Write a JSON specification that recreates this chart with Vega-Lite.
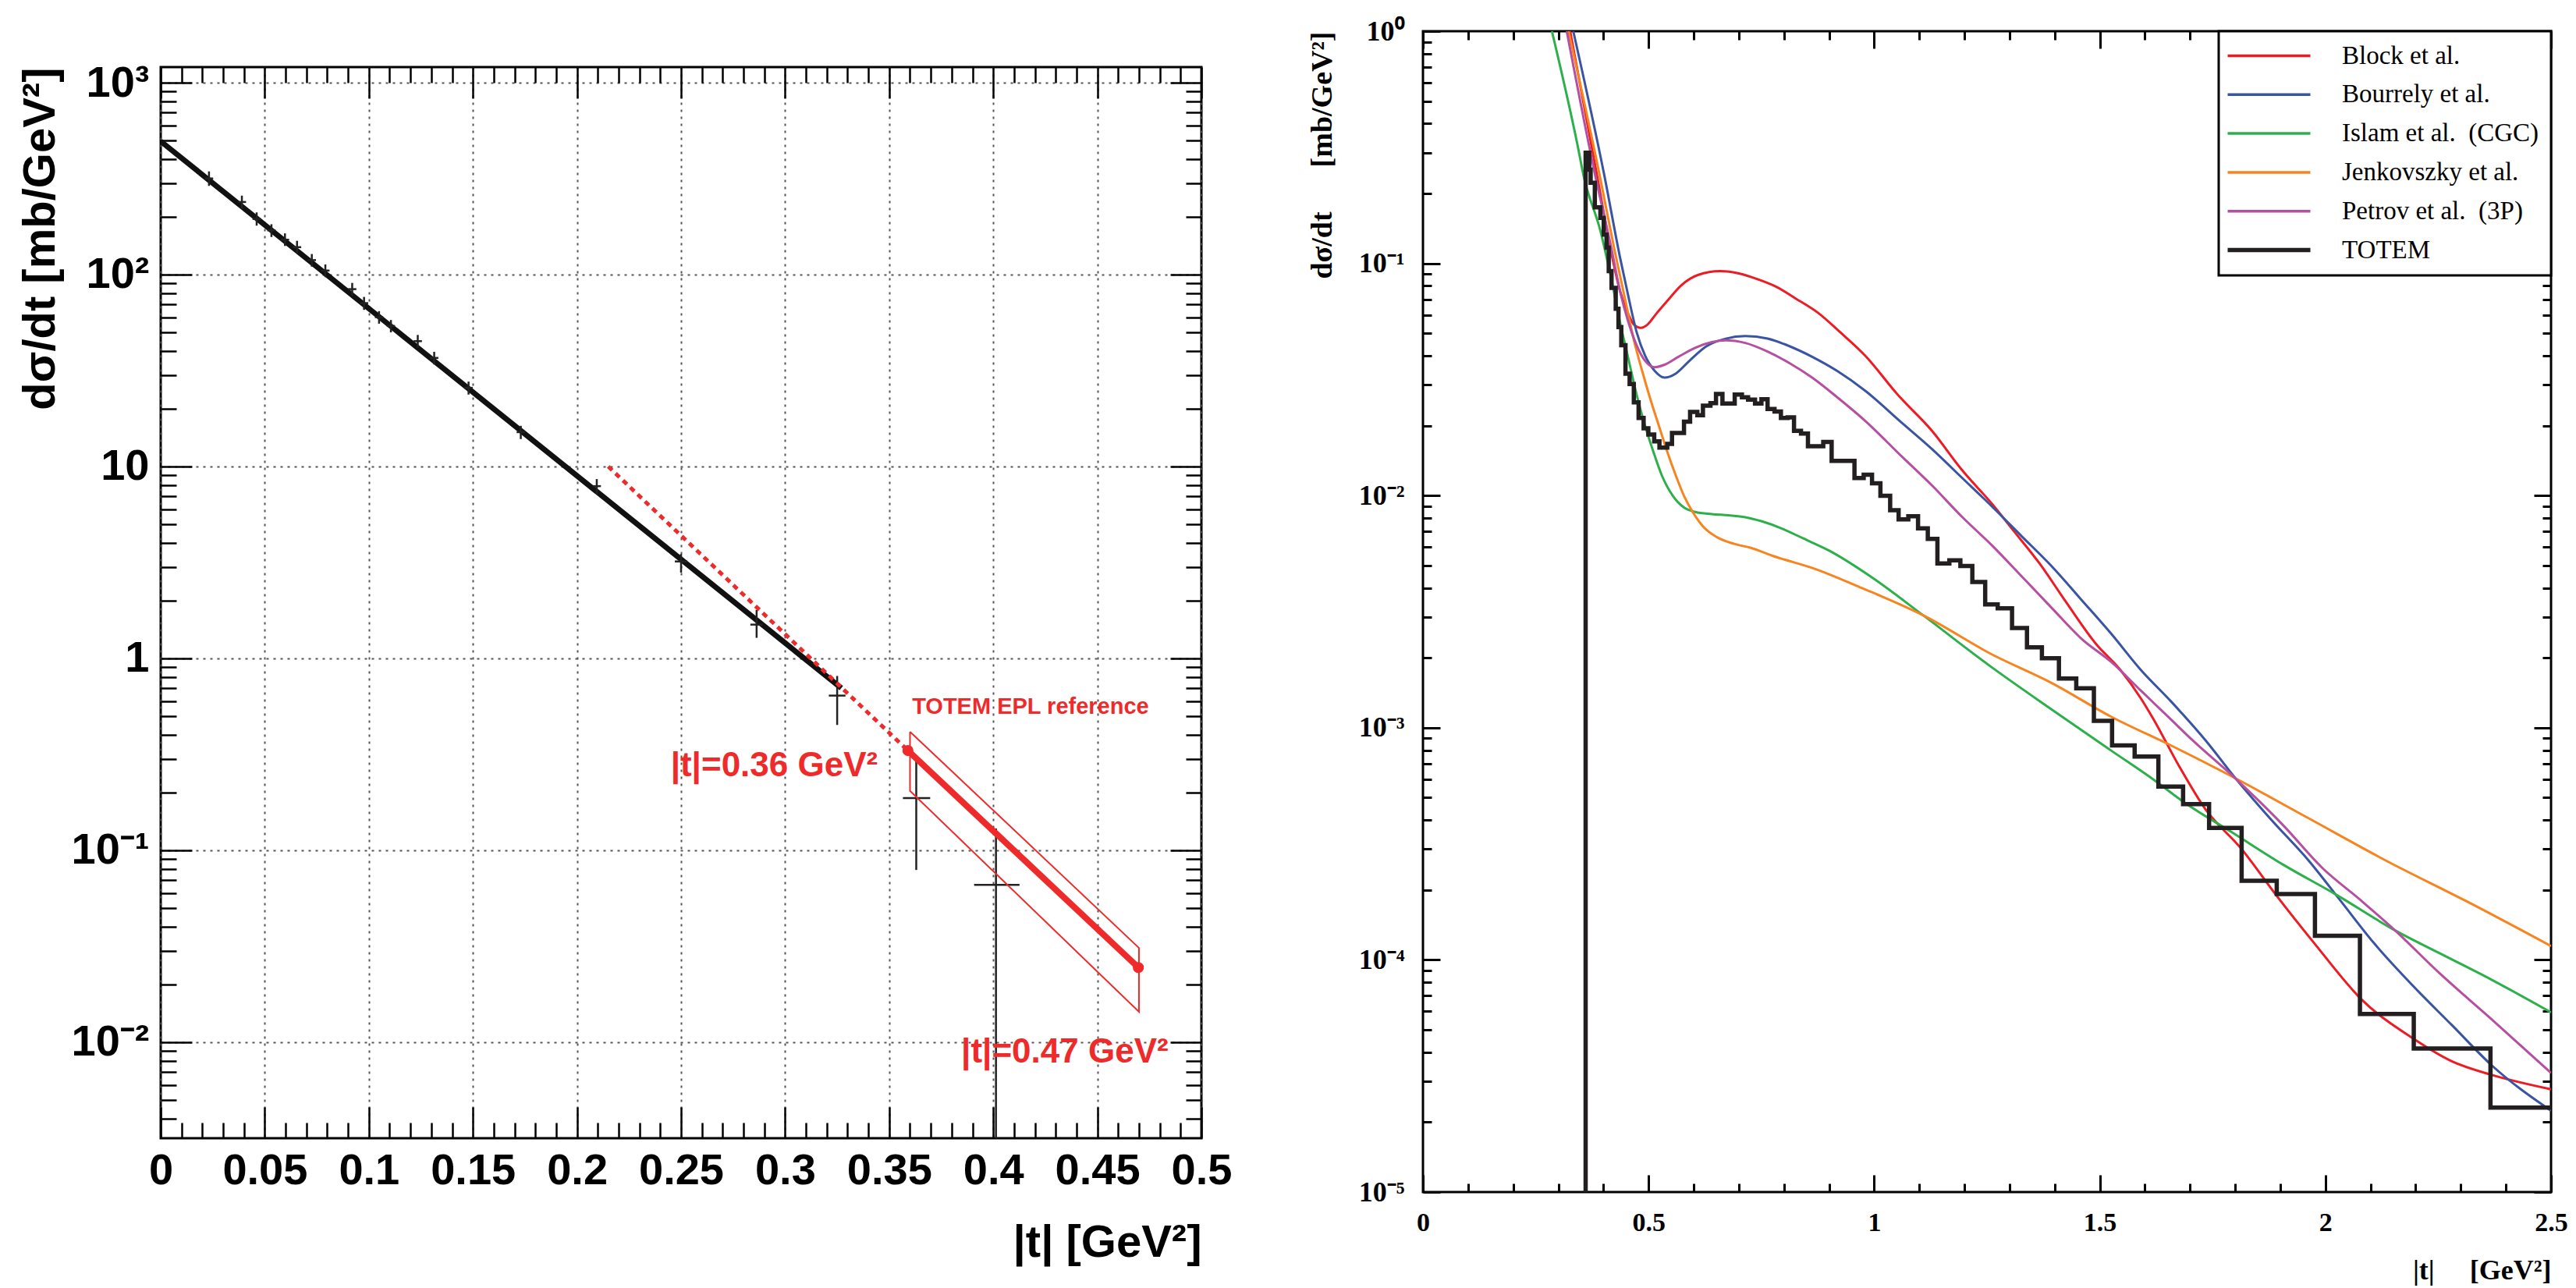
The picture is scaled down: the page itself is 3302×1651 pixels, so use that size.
{
  "$schema": "https://vega.github.io/schema/vega-lite/v6.json",
  "padding": {"left": 21, "top": 20, "right": 0, "bottom": 0},
  "background": "white",
  "config": {
    "view": {"stroke": "black", "strokeWidth": 3},
    "legend": {"strokeWidth": 3}
  },
  "resolve": {"scale": {"color": "independent"}, "legend": {"color": "independent"}},
  "datasets": {
    "fit": [{"t": 0, "v": 495}, {"t": 0.327, "v": 0.70}],
    "pts": [
      {"t": 0.0232, "v": 317, "lo": 290, "hi": 345, "tlo": 0.0212, "thi": 0.0252},
      {"t": 0.0390, "v": 239, "lo": 220, "hi": 258, "tlo": 0.0370, "thi": 0.0410},
      {"t": 0.0461, "v": 195, "lo": 180, "hi": 211, "tlo": 0.0441, "thi": 0.0481},
      {"t": 0.0532, "v": 170, "lo": 157, "hi": 183, "tlo": 0.0512, "thi": 0.0552},
      {"t": 0.0597, "v": 152, "lo": 141, "hi": 164, "tlo": 0.0577, "thi": 0.0617},
      {"t": 0.0655, "v": 139, "lo": 129, "hi": 150, "tlo": 0.0635, "thi": 0.0675},
      {"t": 0.0726, "v": 119, "lo": 110, "hi": 128, "tlo": 0.0706, "thi": 0.0746},
      {"t": 0.0791, "v": 105, "lo": 97, "hi": 113, "tlo": 0.0771, "thi": 0.0811},
      {"t": 0.0920, "v": 84, "lo": 77.5, "hi": 90.5, "tlo": 0.0900, "thi": 0.0940},
      {"t": 0.0977, "v": 71, "lo": 65.5, "hi": 76.5, "tlo": 0.0957, "thi": 0.0997},
      {"t": 0.1049, "v": 60, "lo": 55.5, "hi": 64.5, "tlo": 0.1029, "thi": 0.1069},
      {"t": 0.1106, "v": 54, "lo": 50, "hi": 58, "tlo": 0.1086, "thi": 0.1126},
      {"t": 0.1235, "v": 45, "lo": 41.5, "hi": 48.5, "tlo": 0.1215, "thi": 0.1255},
      {"t": 0.1314, "v": 36.8, "lo": 34, "hi": 39.6, "tlo": 0.1294, "thi": 0.1334},
      {"t": 0.1479, "v": 25.7, "lo": 23.7, "hi": 27.7, "tlo": 0.1459, "thi": 0.1499},
      {"t": 0.1730, "v": 15.1, "lo": 13.9, "hi": 16.3, "tlo": 0.1710, "thi": 0.1750},
      {"t": 0.2095, "v": 7.9, "lo": 7.2, "hi": 8.6, "tlo": 0.2075, "thi": 0.2115},
      {"t": 0.2500, "v": 3.2, "lo": 2.8, "hi": 3.5, "tlo": 0.2470, "thi": 0.2530},
      {"t": 0.2863, "v": 1.5, "lo": 1.28, "hi": 1.79, "tlo": 0.2833, "thi": 0.2893},
      {"t": 0.3250, "v": 0.64, "lo": 0.45, "hi": 0.81, "tlo": 0.3210, "thi": 0.3290},
      {"t": 0.3630, "v": 0.187, "lo": 0.079, "hi": 0.31, "tlo": 0.3566, "thi": 0.3697},
      {"t": 0.4013, "v": 0.066, "lo": 0.003, "hi": 0.13, "tlo": 0.3908, "thi": 0.4126}
    ],
    "dash": [{"t": 0.215, "v": 10}, {"t": 0.359, "v": 0.331}],
    "redline": [{"t": 0.359, "v": 0.331}, {"t": 0.4697, "v": 0.0245}],
    "band": [
      {"o": 1, "t": 0.36, "v": 0.415},
      {"o": 2, "t": 0.47, "v": 0.031},
      {"o": 3, "t": 0.47, "v": 0.0144},
      {"o": 4, "t": 0.36, "v": 0.204},
      {"o": 5, "t": 0.36, "v": 0.415}
    ],
    "dots": [{"t": 0.359, "v": 0.331}, {"t": 0.4697, "v": 0.0245}],
    "labSmall": [{"t": 0.361, "v": 0.56, "text": "TOTEM EPL reference"}],
    "labBig": [
      {"t": 0.245, "v": 0.275, "text": "|t|=0.36 GeV²"},
      {"t": 0.3846, "v": 0.00885, "text": "|t|=0.47 GeV²"}
    ],
    "curves": [
      {"model": "Block et al.", "t": 0.3262, "v": 1.0},
      {"model": "Block et al.", "t": 0.3861, "v": 0.237},
      {"model": "Block et al.", "t": 0.4179, "v": 0.110},
      {"model": "Block et al.", "t": 0.4364, "v": 0.0764},
      {"model": "Block et al.", "t": 0.4549, "v": 0.0606},
      {"model": "Block et al.", "t": 0.4673, "v": 0.0546},
      {"model": "Block et al.", "t": 0.4828, "v": 0.0528},
      {"model": "Block et al.", "t": 0.4981, "v": 0.0546},
      {"model": "Block et al.", "t": 0.5168, "v": 0.0606},
      {"model": "Block et al.", "t": 0.5414, "v": 0.0689},
      {"model": "Block et al.", "t": 0.5723, "v": 0.0804},
      {"model": "Block et al.", "t": 0.6093, "v": 0.0891},
      {"model": "Block et al.", "t": 0.6587, "v": 0.0926},
      {"model": "Block et al.", "t": 0.7019, "v": 0.0903},
      {"model": "Block et al.", "t": 0.7390, "v": 0.0858},
      {"model": "Block et al.", "t": 0.7822, "v": 0.0794},
      {"model": "Block et al.", "t": 0.8254, "v": 0.0707},
      {"model": "Block et al.", "t": 0.8748, "v": 0.0614},
      {"model": "Block et al.", "t": 0.9243, "v": 0.0506},
      {"model": "Block et al.", "t": 0.9798, "v": 0.0401},
      {"model": "Block et al.", "t": 1.0521, "v": 0.0272},
      {"model": "Block et al.", "t": 1.1281, "v": 0.0190},
      {"model": "Block et al.", "t": 1.1943, "v": 0.0129},
      {"model": "Block et al.", "t": 1.2606, "v": 0.00923},
      {"model": "Block et al.", "t": 1.3069, "v": 0.00713},
      {"model": "Block et al.", "t": 1.3664, "v": 0.00510},
      {"model": "Block et al.", "t": 1.4260, "v": 0.00346},
      {"model": "Block et al.", "t": 1.4921, "v": 0.00229},
      {"model": "Block et al.", "t": 1.5450, "v": 0.00178},
      {"model": "Block et al.", "t": 1.5913, "v": 0.001335},
      {"model": "Block et al.", "t": 1.6183, "v": 0.001094},
      {"model": "Block et al.", "t": 1.6759, "v": 0.000682},
      {"model": "Block et al.", "t": 1.7336, "v": 0.000447},
      {"model": "Block et al.", "t": 1.8143, "v": 0.000300},
      {"model": "Block et al.", "t": 1.8891, "v": 0.000192},
      {"model": "Block et al.", "t": 1.9757, "v": 0.0001177},
      {"model": "Block et al.", "t": 2.0795, "v": 0.0000677},
      {"model": "Block et al.", "t": 2.1946, "v": 0.0000458},
      {"model": "Block et al.", "t": 2.2810, "v": 0.0000365},
      {"model": "Block et al.", "t": 2.3674, "v": 0.0000320},
      {"model": "Block et al.", "t": 2.5, "v": 0.0000277},

      {"model": "Bourrely et al.", "t": 0.3331, "v": 1.0},
      {"model": "Bourrely et al.", "t": 0.4023, "v": 0.2373},
      {"model": "Bourrely et al.", "t": 0.4364, "v": 0.1068},
      {"model": "Bourrely et al.", "t": 0.4549, "v": 0.0725},
      {"model": "Bourrely et al.", "t": 0.4735, "v": 0.0506},
      {"model": "Bourrely et al.", "t": 0.4921, "v": 0.0401},
      {"model": "Bourrely et al.", "t": 0.5137, "v": 0.0344},
      {"model": "Bourrely et al.", "t": 0.5353, "v": 0.0322},
      {"model": "Bourrely et al.", "t": 0.5600, "v": 0.0335},
      {"model": "Bourrely et al.", "t": 0.5908, "v": 0.0381},
      {"model": "Bourrely et al.", "t": 0.6278, "v": 0.0439},
      {"model": "Bourrely et al.", "t": 0.6710, "v": 0.0474},
      {"model": "Bourrely et al.", "t": 0.7143, "v": 0.0486},
      {"model": "Bourrely et al.", "t": 0.7637, "v": 0.0474},
      {"model": "Bourrely et al.", "t": 0.8131, "v": 0.0439},
      {"model": "Bourrely et al.", "t": 0.8625, "v": 0.0396},
      {"model": "Bourrely et al.", "t": 0.9181, "v": 0.0344},
      {"model": "Bourrely et al.", "t": 0.9798, "v": 0.0283},
      {"model": "Bourrely et al.", "t": 1.0621, "v": 0.0205},
      {"model": "Bourrely et al.", "t": 1.1281, "v": 0.01585},
      {"model": "Bourrely et al.", "t": 1.1943, "v": 0.01194},
      {"model": "Bourrely et al.", "t": 1.2606, "v": 0.00899},
      {"model": "Bourrely et al.", "t": 1.3268, "v": 0.00668},
      {"model": "Bourrely et al.", "t": 1.3928, "v": 0.00497},
      {"model": "Bourrely et al.", "t": 1.4590, "v": 0.00356},
      {"model": "Bourrely et al.", "t": 1.5252, "v": 0.00254},
      {"model": "Bourrely et al.", "t": 1.5913, "v": 0.00177},
      {"model": "Bourrely et al.", "t": 1.6575, "v": 0.00130},
      {"model": "Bourrely et al.", "t": 1.7336, "v": 0.000886},
      {"model": "Bourrely et al.", "t": 1.8027, "v": 0.000599},
      {"model": "Bourrely et al.", "t": 1.8776, "v": 0.000406},
      {"model": "Bourrely et al.", "t": 1.9641, "v": 0.000266},
      {"model": "Bourrely et al.", "t": 2.0332, "v": 0.000180},
      {"model": "Bourrely et al.", "t": 2.1082, "v": 0.0001177},
      {"model": "Bourrely et al.", "t": 2.1946, "v": 0.0000771},
      {"model": "Bourrely et al.", "t": 2.2810, "v": 0.0000522},
      {"model": "Bourrely et al.", "t": 2.3674, "v": 0.0000353},
      {"model": "Bourrely et al.", "t": 2.5, "v": 0.0000224},

      {"model": "Islam et al.\u00a0\u00a0(CGC)", "t": 0.2858, "v": 1.0},
      {"model": "Islam et al.\u00a0\u00a0(CGC)", "t": 0.3425, "v": 0.3234},
      {"model": "Islam et al.\u00a0\u00a0(CGC)", "t": 0.3562, "v": 0.2373},
      {"model": "Islam et al.\u00a0\u00a0(CGC)", "t": 0.3932, "v": 0.1381},
      {"model": "Islam et al.\u00a0\u00a0(CGC)", "t": 0.4179, "v": 0.0847},
      {"model": "Islam et al.\u00a0\u00a0(CGC)", "t": 0.4364, "v": 0.0561},
      {"model": "Islam et al.\u00a0\u00a0(CGC)", "t": 0.4549, "v": 0.0391},
      {"model": "Islam et al.\u00a0\u00a0(CGC)", "t": 0.4735, "v": 0.0272},
      {"model": "Islam et al.\u00a0\u00a0(CGC)", "t": 0.4921, "v": 0.0200},
      {"model": "Islam et al.\u00a0\u00a0(CGC)", "t": 0.5106, "v": 0.01545},
      {"model": "Islam et al.\u00a0\u00a0(CGC)", "t": 0.5291, "v": 0.01225},
      {"model": "Islam et al.\u00a0\u00a0(CGC)", "t": 0.5538, "v": 0.00997},
      {"model": "Islam et al.\u00a0\u00a0(CGC)", "t": 0.5785, "v": 0.00888},
      {"model": "Islam et al.\u00a0\u00a0(CGC)", "t": 0.6032, "v": 0.00850},
      {"model": "Islam et al.\u00a0\u00a0(CGC)", "t": 0.6402, "v": 0.00832},
      {"model": "Islam et al.\u00a0\u00a0(CGC)", "t": 0.6772, "v": 0.00822},
      {"model": "Islam et al.\u00a0\u00a0(CGC)", "t": 0.7143, "v": 0.00807},
      {"model": "Islam et al.\u00a0\u00a0(CGC)", "t": 0.7514, "v": 0.00774},
      {"model": "Islam et al.\u00a0\u00a0(CGC)", "t": 0.7946, "v": 0.00722},
      {"model": "Islam et al.\u00a0\u00a0(CGC)", "t": 0.8439, "v": 0.00652},
      {"model": "Islam et al.\u00a0\u00a0(CGC)", "t": 0.8996, "v": 0.00580},
      {"model": "Islam et al.\u00a0\u00a0(CGC)", "t": 0.9959, "v": 0.00443},
      {"model": "Islam et al.\u00a0\u00a0(CGC)", "t": 1.1084, "v": 0.00305},
      {"model": "Islam et al.\u00a0\u00a0(CGC)", "t": 1.2606, "v": 0.00182},
      {"model": "Islam et al.\u00a0\u00a0(CGC)", "t": 1.3928, "v": 0.00120},
      {"model": "Islam et al.\u00a0\u00a0(CGC)", "t": 1.5252, "v": 0.000797},
      {"model": "Islam et al.\u00a0\u00a0(CGC)", "t": 1.6183, "v": 0.000599},
      {"model": "Islam et al.\u00a0\u00a0(CGC)", "t": 1.6870, "v": 0.000477},
      {"model": "Islam et al.\u00a0\u00a0(CGC)", "t": 1.7912, "v": 0.000356},
      {"model": "Islam et al.\u00a0\u00a0(CGC)", "t": 1.9064, "v": 0.000257},
      {"model": "Islam et al.\u00a0\u00a0(CGC)", "t": 2.0217, "v": 0.000192},
      {"model": "Islam et al.\u00a0\u00a0(CGC)", "t": 2.1543, "v": 0.000134},
      {"model": "Islam et al.\u00a0\u00a0(CGC)", "t": 2.2523, "v": 0.000107},
      {"model": "Islam et al.\u00a0\u00a0(CGC)", "t": 2.3674, "v": 0.0000823},
      {"model": "Islam et al.\u00a0\u00a0(CGC)", "t": 2.5, "v": 0.0000594},

      {"model": "Jenkovszky et al.", "t": 0.3227, "v": 1.0},
      {"model": "Jenkovszky et al.", "t": 0.3920, "v": 0.2373},
      {"model": "Jenkovszky et al.", "t": 0.4241, "v": 0.1153},
      {"model": "Jenkovszky et al.", "t": 0.4488, "v": 0.0689},
      {"model": "Jenkovszky et al.", "t": 0.4673, "v": 0.0468},
      {"model": "Jenkovszky et al.", "t": 0.4858, "v": 0.0344},
      {"model": "Jenkovszky et al.", "t": 0.5043, "v": 0.0259},
      {"model": "Jenkovszky et al.", "t": 0.5228, "v": 0.0200},
      {"model": "Jenkovszky et al.", "t": 0.5414, "v": 0.01545},
      {"model": "Jenkovszky et al.", "t": 0.5600, "v": 0.01225},
      {"model": "Jenkovszky et al.", "t": 0.5785, "v": 0.00997},
      {"model": "Jenkovszky et al.", "t": 0.5970, "v": 0.00854},
      {"model": "Jenkovszky et al.", "t": 0.6217, "v": 0.00732},
      {"model": "Jenkovszky et al.", "t": 0.6525, "v": 0.00660},
      {"model": "Jenkovszky et al.", "t": 0.6897, "v": 0.00619},
      {"model": "Jenkovszky et al.", "t": 0.7267, "v": 0.00595},
      {"model": "Jenkovszky et al.", "t": 0.7737, "v": 0.00551},
      {"model": "Jenkovszky et al.", "t": 0.8729, "v": 0.00480},
      {"model": "Jenkovszky et al.", "t": 0.9722, "v": 0.00400},
      {"model": "Jenkovszky et al.", "t": 1.1084, "v": 0.00305},
      {"model": "Jenkovszky et al.", "t": 1.2606, "v": 0.00207},
      {"model": "Jenkovszky et al.", "t": 1.3928, "v": 0.00156},
      {"model": "Jenkovszky et al.", "t": 1.5252, "v": 0.001115},
      {"model": "Jenkovszky et al.", "t": 1.6575, "v": 0.000839},
      {"model": "Jenkovszky et al.", "t": 1.7912, "v": 0.000619},
      {"model": "Jenkovszky et al.", "t": 1.9640, "v": 0.000406},
      {"model": "Jenkovszky et al.", "t": 2.1369, "v": 0.000266},
      {"model": "Jenkovszky et al.", "t": 2.3099, "v": 0.000180},
      {"model": "Jenkovszky et al.", "t": 2.5, "v": 0.0001147},

      {"model": "Petrov et al.\u00a0\u00a0(3P)", "t": 0.3187, "v": 1.0},
      {"model": "Petrov et al.\u00a0\u00a0(3P)", "t": 0.3821, "v": 0.2373},
      {"model": "Petrov et al.\u00a0\u00a0(3P)", "t": 0.4179, "v": 0.1153},
      {"model": "Petrov et al.\u00a0\u00a0(3P)", "t": 0.4364, "v": 0.0764},
      {"model": "Petrov et al.\u00a0\u00a0(3P)", "t": 0.4549, "v": 0.0561},
      {"model": "Petrov et al.\u00a0\u00a0(3P)", "t": 0.4735, "v": 0.0444},
      {"model": "Petrov et al.\u00a0\u00a0(3P)", "t": 0.4921, "v": 0.0381},
      {"model": "Petrov et al.\u00a0\u00a0(3P)", "t": 0.5137, "v": 0.0357},
      {"model": "Petrov et al.\u00a0\u00a0(3P)", "t": 0.5353, "v": 0.0366},
      {"model": "Petrov et al.\u00a0\u00a0(3P)", "t": 0.5661, "v": 0.0396},
      {"model": "Petrov et al.\u00a0\u00a0(3P)", "t": 0.6032, "v": 0.0433},
      {"model": "Petrov et al.\u00a0\u00a0(3P)", "t": 0.6402, "v": 0.0458},
      {"model": "Petrov et al.\u00a0\u00a0(3P)", "t": 0.6710, "v": 0.0466},
      {"model": "Petrov et al.\u00a0\u00a0(3P)", "t": 0.7143, "v": 0.0454},
      {"model": "Petrov et al.\u00a0\u00a0(3P)", "t": 0.7637, "v": 0.0417},
      {"model": "Petrov et al.\u00a0\u00a0(3P)", "t": 0.8131, "v": 0.0371},
      {"model": "Petrov et al.\u00a0\u00a0(3P)", "t": 0.8625, "v": 0.0322},
      {"model": "Petrov et al.\u00a0\u00a0(3P)", "t": 0.9181, "v": 0.0265},
      {"model": "Petrov et al.\u00a0\u00a0(3P)", "t": 0.9798, "v": 0.0210},
      {"model": "Petrov et al.\u00a0\u00a0(3P)", "t": 1.0621, "v": 0.01467},
      {"model": "Petrov et al.\u00a0\u00a0(3P)", "t": 1.1281, "v": 0.01105},
      {"model": "Petrov et al.\u00a0\u00a0(3P)", "t": 1.1943, "v": 0.00811},
      {"model": "Petrov et al.\u00a0\u00a0(3P)", "t": 1.2606, "v": 0.00611},
      {"model": "Petrov et al.\u00a0\u00a0(3P)", "t": 1.3268, "v": 0.00449},
      {"model": "Petrov et al.\u00a0\u00a0(3P)", "t": 1.3928, "v": 0.00329},
      {"model": "Petrov et al.\u00a0\u00a0(3P)", "t": 1.4590, "v": 0.00242},
      {"model": "Petrov et al.\u00a0\u00a0(3P)", "t": 1.5252, "v": 0.00192},
      {"model": "Petrov et al.\u00a0\u00a0(3P)", "t": 1.5913, "v": 0.001443},
      {"model": "Petrov et al.\u00a0\u00a0(3P)", "t": 1.6575, "v": 0.001086},
      {"model": "Petrov et al.\u00a0\u00a0(3P)", "t": 1.7047, "v": 0.000886},
      {"model": "Petrov et al.\u00a0\u00a0(3P)", "t": 1.8027, "v": 0.000599},
      {"model": "Petrov et al.\u00a0\u00a0(3P)", "t": 1.9064, "v": 0.000380},
      {"model": "Petrov et al.\u00a0\u00a0(3P)", "t": 1.9930, "v": 0.000249},
      {"model": "Petrov et al.\u00a0\u00a0(3P)", "t": 2.0793, "v": 0.000180},
      {"model": "Petrov et al.\u00a0\u00a0(3P)", "t": 2.1543, "v": 0.000134},
      {"model": "Petrov et al.\u00a0\u00a0(3P)", "t": 2.2523, "v": 0.0000878},
      {"model": "Petrov et al.\u00a0\u00a0(3P)", "t": 2.3674, "v": 0.0000557},
      {"model": "Petrov et al.\u00a0\u00a0(3P)", "t": 2.5, "v": 0.0000326}
    ],
    "hist": [
      {"model": "TOTEM", "i": 0, "t": 0.3605, "v": 0.00001},
      {"model": "TOTEM", "i": 1, "t": 0.3605, "v": 0.2994},
      {"model": "TOTEM", "i": 2, "t": 0.3685, "v": 0.2531},
      {"model": "TOTEM", "i": 3, "t": 0.3716, "v": 0.2225},
      {"model": "TOTEM", "i": 4, "t": 0.3809, "v": 0.1742},
      {"model": "TOTEM", "i": 5, "t": 0.3932, "v": 0.1572},
      {"model": "TOTEM", "i": 6, "t": 0.4006, "v": 0.1329},
      {"model": "TOTEM", "i": 7, "t": 0.4068, "v": 0.1168},
      {"model": "TOTEM", "i": 8, "t": 0.4117, "v": 0.0927},
      {"model": "TOTEM", "i": 9, "t": 0.4179, "v": 0.0784},
      {"model": "TOTEM", "i": 10, "t": 0.4272, "v": 0.0638},
      {"model": "TOTEM", "i": 11, "t": 0.4333, "v": 0.0532},
      {"model": "TOTEM", "i": 12, "t": 0.4395, "v": 0.0444},
      {"model": "TOTEM", "i": 13, "t": 0.4488, "v": 0.0335},
      {"model": "TOTEM", "i": 14, "t": 0.4580, "v": 0.0302},
      {"model": "TOTEM", "i": 15, "t": 0.4673, "v": 0.0252},
      {"model": "TOTEM", "i": 16, "t": 0.4779, "v": 0.0216},
      {"model": "TOTEM", "i": 17, "t": 0.4890, "v": 0.0195},
      {"model": "TOTEM", "i": 18, "t": 0.4995, "v": 0.0183},
      {"model": "TOTEM", "i": 19, "t": 0.5125, "v": 0.0171},
      {"model": "TOTEM", "i": 20, "t": 0.5241, "v": 0.0161},
      {"model": "TOTEM", "i": 21, "t": 0.5414, "v": 0.0167},
      {"model": "TOTEM", "i": 22, "t": 0.5519, "v": 0.0186},
      {"model": "TOTEM", "i": 23, "t": 0.5785, "v": 0.0208},
      {"model": "TOTEM", "i": 24, "t": 0.5920, "v": 0.0229},
      {"model": "TOTEM", "i": 25, "t": 0.6081, "v": 0.0222},
      {"model": "TOTEM", "i": 26, "t": 0.6205, "v": 0.0244},
      {"model": "TOTEM", "i": 27, "t": 0.6371, "v": 0.0250},
      {"model": "TOTEM", "i": 28, "t": 0.6494, "v": 0.0274},
      {"model": "TOTEM", "i": 29, "t": 0.6637, "v": 0.0249},
      {"model": "TOTEM", "i": 30, "t": 0.6909, "v": 0.0272},
      {"model": "TOTEM", "i": 31, "t": 0.7069, "v": 0.0265},
      {"model": "TOTEM", "i": 32, "t": 0.7205, "v": 0.0259},
      {"model": "TOTEM", "i": 33, "t": 0.7359, "v": 0.0249},
      {"model": "TOTEM", "i": 34, "t": 0.7501, "v": 0.0260},
      {"model": "TOTEM", "i": 35, "t": 0.7637, "v": 0.0236},
      {"model": "TOTEM", "i": 36, "t": 0.7791, "v": 0.0230},
      {"model": "TOTEM", "i": 37, "t": 0.7933, "v": 0.0216},
      {"model": "TOTEM", "i": 38, "t": 0.8081, "v": 0.0217},
      {"model": "TOTEM", "i": 39, "t": 0.8223, "v": 0.0190},
      {"model": "TOTEM", "i": 40, "t": 0.8378, "v": 0.0185},
      {"model": "TOTEM", "i": 41, "t": 0.8532, "v": 0.0163},
      {"model": "TOTEM", "i": 42, "t": 0.8871, "v": 0.0170},
      {"model": "TOTEM", "i": 43, "t": 0.9057, "v": 0.0141},
      {"model": "TOTEM", "i": 44, "t": 0.9563, "v": 0.0119},
      {"model": "TOTEM", "i": 45, "t": 0.9767, "v": 0.0123},
      {"model": "TOTEM", "i": 46, "t": 0.9952, "v": 0.0113},
      {"model": "TOTEM", "i": 47, "t": 1.0138, "v": 0.00997},
      {"model": "TOTEM", "i": 48, "t": 1.0354, "v": 0.00865},
      {"model": "TOTEM", "i": 49, "t": 1.0541, "v": 0.00790},
      {"model": "TOTEM", "i": 50, "t": 1.0756, "v": 0.00815},
      {"model": "TOTEM", "i": 51, "t": 1.0972, "v": 0.00722},
      {"model": "TOTEM", "i": 52, "t": 1.1188, "v": 0.00651},
      {"model": "TOTEM", "i": 53, "t": 1.1401, "v": 0.00510},
      {"model": "TOTEM", "i": 54, "t": 1.1666, "v": 0.00526},
      {"model": "TOTEM", "i": 55, "t": 1.1910, "v": 0.00497},
      {"model": "TOTEM", "i": 56, "t": 1.2175, "v": 0.00424},
      {"model": "TOTEM", "i": 57, "t": 1.2460, "v": 0.00340},
      {"model": "TOTEM", "i": 58, "t": 1.2737, "v": 0.00327},
      {"model": "TOTEM", "i": 59, "t": 1.3055, "v": 0.00269},
      {"model": "TOTEM", "i": 60, "t": 1.3386, "v": 0.00222},
      {"model": "TOTEM", "i": 61, "t": 1.3717, "v": 0.00199},
      {"model": "TOTEM", "i": 62, "t": 1.4094, "v": 0.00163},
      {"model": "TOTEM", "i": 63, "t": 1.4478, "v": 0.00148},
      {"model": "TOTEM", "i": 64, "t": 1.4869, "v": 0.00107},
      {"model": "TOTEM", "i": 65, "t": 1.5272, "v": 0.000839},
      {"model": "TOTEM", "i": 66, "t": 1.5772, "v": 0.000752},
      {"model": "TOTEM", "i": 67, "t": 1.6298, "v": 0.000558},
      {"model": "TOTEM", "i": 68, "t": 1.6846, "v": 0.000469},
      {"model": "TOTEM", "i": 69, "t": 1.7422, "v": 0.000370},
      {"model": "TOTEM", "i": 70, "t": 1.8143, "v": 0.000219},
      {"model": "TOTEM", "i": 71, "t": 1.8921, "v": 0.000192},
      {"model": "TOTEM", "i": 72, "t": 1.9768, "v": 0.000127},
      {"model": "TOTEM", "i": 73, "t": 2.0765, "v": 0.0000585},
      {"model": "TOTEM", "i": 74, "t": 2.1958, "v": 0.0000415},
      {"model": "TOTEM", "i": 75, "t": 2.3658, "v": 0.0000231},
      {"model": "TOTEM", "i": 76, "t": 2.5, "v": 0.0000231}
    ]
  },
  "hconcat": [
    {
      "spacing": 0,
      "vconcat": [
        {
          "width": 10,
          "height": 36,
          "view": {"stroke": null},
          "data": {"values": []},
          "mark": {"type": "point", "opacity": 0}
        },
        {
          "width": 1334,
          "height": 1373,
          "resolve": {"axis": {"x": "independent", "y": "independent"}},
          "layer": [
            {
              "data": {"name": "fit"},
              "mark": {"type": "line", "color": "#111111", "strokeWidth": 7, "clip": true},
              "encoding": {
                "x": {
                  "field": "t", "type": "quantitative",
                  "scale": {"domain": [0, 0.5], "nice": false, "zero": false},
                  "axis": {
                    "orient": "bottom",
                    "values": [0,0.01,0.02,0.03,0.04,0.05,0.06,0.07,0.08,0.09,0.1,0.11,0.12,0.13,0.14,0.15,0.16,0.17,0.18,0.19,0.2,0.21,0.22,0.23,0.24,0.25,0.26,0.27,0.28,0.29,0.3,0.31,0.32,0.33,0.34,0.35,0.36,0.37,0.38,0.39,0.4,0.41,0.42,0.43,0.44,0.45,0.46,0.47,0.48,0.49,0.5],
                    "format": "~g",
                    "labelExpr": "abs(datum.value*20-round(datum.value*20))<0.000001 ? datum.label : ''",
                    "labelFont": "Liberation Sans", "labelFontWeight": "bold", "labelFontSize": 56, "labelColor": "black",
                    "labelPadding": 54, "labelFlush": false, "labelOverlap": false, "labelBound": false,
                    "domain": false, "tickColor": "black", "tickWidth": 2.5,
                    "tickSize": {"condition": {"test": "abs(datum.value*20-round(datum.value*20))<0.000001", "value": -40}, "value": -20},
                    "grid": true, "gridColor": "#555555", "gridDash": [3, 6], "gridWidth": 2,
                    "gridOpacity": {"condition": {"test": "abs(datum.value*20-round(datum.value*20))<0.000001", "value": 1}, "value": 0},
                    "title": "|t| [GeV²]", "titleFont": "Liberation Sans", "titleFontWeight": "bold", "titleFontSize": 58,
                    "titleColor": "black", "titleAnchor": "end", "titlePadding": 16
                  }
                },
                "y": {
                  "field": "v", "type": "quantitative",
                  "scale": {"type": "log", "domain": [0.00316, 1206], "nice": false},
                  "axis": {
                    "orient": "left",
                    "values": [0.004,0.005,0.006,0.007,0.008,0.009,0.01,0.02,0.03,0.04,0.05,0.06,0.07,0.08,0.09,0.1,0.2,0.3,0.4,0.5,0.6,0.7,0.8,0.9,1,2,3,4,5,6,7,8,9,10,20,30,40,50,60,70,80,90,100,200,300,400,500,600,700,800,900,1000],
                    "labelExpr": "datum.value==1000?'10³':datum.value==100?'10²':datum.value==10?'10':datum.value==1?'1':datum.value==0.1?'10⁻¹':datum.value==0.01?'10⁻²':''",
                    "labelFont": "Liberation Sans", "labelFontWeight": "bold", "labelFontSize": 56, "labelColor": "black",
                    "labelPadding": 55, "labelOverlap": false, "labelBound": false, "labelFlush": false,
                    "minExtent": 100, "maxExtent": 100,
                    "domain": false, "tickColor": "black", "tickWidth": 2.5,
                    "tickSize": {"condition": {"test": "abs(log(datum.value)/LN10-round(log(datum.value)/LN10))<0.000001", "value": -40}, "value": -20},
                    "grid": true, "gridColor": "#555555", "gridDash": [3, 6], "gridWidth": 2,
                    "gridOpacity": {"condition": {"test": "abs(log(datum.value)/LN10-round(log(datum.value)/LN10))<0.000001", "value": 1}, "value": 0},
                    "title": "dσ/dt [mb/GeV²]", "titleFont": "Liberation Sans", "titleFontWeight": "bold", "titleFontSize": 58,
                    "titleColor": "black", "titleAnchor": "end", "titlePadding": 25
                  }
                }
              }
            },
            {
              "data": {"name": "pts"},
              "mark": {"type": "rule", "color": "#222222", "strokeWidth": 2.5, "clip": true},
              "encoding": {
                "x": {
                  "field": "t", "type": "quantitative",
                  "axis": {
                    "orient": "top", "title": null, "labels": false, "grid": false, "domain": false,
                    "values": [0,0.01,0.02,0.03,0.04,0.05,0.06,0.07,0.08,0.09,0.1,0.11,0.12,0.13,0.14,0.15,0.16,0.17,0.18,0.19,0.2,0.21,0.22,0.23,0.24,0.25,0.26,0.27,0.28,0.29,0.3,0.31,0.32,0.33,0.34,0.35,0.36,0.37,0.38,0.39,0.4,0.41,0.42,0.43,0.44,0.45,0.46,0.47,0.48,0.49,0.5],
                    "tickColor": "black", "tickWidth": 2.5,
                    "tickSize": {"condition": {"test": "abs(datum.value*20-round(datum.value*20))<0.000001", "value": -40}, "value": -20}
                  }
                },
                "y": {
                  "field": "lo", "type": "quantitative",
                  "axis": {
                    "orient": "right", "title": null, "labels": false, "grid": false, "domain": false,
                    "values": [0.004,0.005,0.006,0.007,0.008,0.009,0.01,0.02,0.03,0.04,0.05,0.06,0.07,0.08,0.09,0.1,0.2,0.3,0.4,0.5,0.6,0.7,0.8,0.9,1,2,3,4,5,6,7,8,9,10,20,30,40,50,60,70,80,90,100,200,300,400,500,600,700,800,900,1000],
                    "tickColor": "black", "tickWidth": 2.5,
                    "tickSize": {"condition": {"test": "abs(log(datum.value)/LN10-round(log(datum.value)/LN10))<0.000001", "value": -40}, "value": -20}
                  }
                },
                "y2": {"field": "hi"}
              }
            },
            {
              "data": {"name": "pts"},
              "mark": {"type": "rule", "color": "#222222", "strokeWidth": 2.5, "clip": true},
              "encoding": {
                "x": {"field": "tlo", "type": "quantitative", "axis": null},
                "x2": {"field": "thi"},
                "y": {"field": "v", "type": "quantitative", "axis": null}
              }
            },
            {
              "data": {"name": "dash"},
              "mark": {"type": "line", "color": "#EE2A2A", "strokeWidth": 5, "strokeDash": [7, 6], "clip": true},
              "encoding": {
                "x": {"field": "t", "type": "quantitative", "axis": null},
                "y": {"field": "v", "type": "quantitative", "axis": null}
              }
            },
            {
              "data": {"name": "band"},
              "mark": {"type": "line", "color": "#EE2A2A", "strokeWidth": 2, "clip": true},
              "encoding": {
                "x": {"field": "t", "type": "quantitative", "axis": null},
                "y": {"field": "v", "type": "quantitative", "axis": null},
                "order": {"field": "o"}
              }
            },
            {
              "data": {"name": "redline"},
              "mark": {"type": "line", "color": "#EE2A2A", "strokeWidth": 8, "clip": true},
              "encoding": {
                "x": {"field": "t", "type": "quantitative", "axis": null},
                "y": {"field": "v", "type": "quantitative", "axis": null}
              }
            },
            {
              "data": {"name": "dots"},
              "mark": {"type": "point", "filled": true, "shape": "circle", "color": "#EE2A2A", "size": 200, "opacity": 1},
              "encoding": {
                "x": {"field": "t", "type": "quantitative", "axis": null},
                "y": {"field": "v", "type": "quantitative", "axis": null}
              }
            },
            {
              "data": {"name": "labSmall"},
              "mark": {"type": "text", "align": "left", "baseline": "middle", "font": "Liberation Sans", "fontWeight": "bold", "fontSize": 29, "color": "#EE2A2A"},
              "encoding": {
                "x": {"field": "t", "type": "quantitative", "axis": null},
                "y": {"field": "v", "type": "quantitative", "axis": null},
                "text": {"field": "text"}
              }
            },
            {
              "data": {"name": "labBig"},
              "mark": {"type": "text", "align": "left", "baseline": "middle", "font": "Liberation Sans", "fontWeight": "bold", "fontSize": 44, "color": "#EE2A2A"},
              "encoding": {
                "x": {"field": "t", "type": "quantitative", "axis": null},
                "y": {"field": "v", "type": "quantitative", "axis": null},
                "text": {"field": "text"}
              }
            }
          ]
        }
      ]
    },
    {
      "width": 1446,
      "height": 1488,
      "resolve": {"axis": {"x": "independent", "y": "independent"}},
      "layer": [
        {
          "data": {"name": "curves"},
          "mark": {"type": "line", "strokeWidth": 3, "interpolate": "monotone", "clip": true},
          "encoding": {
            "x": {
              "field": "t", "type": "quantitative",
              "scale": {"domain": [0, 2.5], "nice": false, "zero": false},
              "axis": {
                "orient": "bottom",
                "values": [0,0.1,0.2,0.3,0.4,0.5,0.6,0.7,0.8,0.9,1,1.1,1.2,1.3,1.4,1.5,1.6,1.7,1.8,1.9,2,2.1,2.2,2.3,2.4,2.5],
                "format": "~g",
                "labelExpr": "abs(datum.value*2-round(datum.value*2))<0.000001 ? datum.label : ''",
                "labelFont": "Liberation Serif", "labelFontWeight": "bold", "labelFontSize": 34, "labelColor": "black",
                "labelPadding": 44, "labelFlush": false, "labelOverlap": false, "labelBound": false,
                "domain": false, "tickColor": "black", "tickWidth": 3,
                "tickSize": {"condition": {"test": "abs(datum.value*2-round(datum.value*2))<0.000001", "value": -22}, "value": -11},
                "grid": false,
                "title": "|t|\u00a0\u00a0\u00a0\u00a0\u00a0[GeV²]", "titleFont": "Liberation Serif", "titleFontWeight": "bold", "titleFontSize": 36,
                "titleColor": "black", "titleAnchor": "end", "titlePadding": 16
              }
            },
            "y": {
              "field": "v", "type": "quantitative",
              "scale": {"type": "log", "domain": [0.00001, 1], "nice": false},
              "axis": {
                "orient": "left",
                "values": [0.00001,0.00002,0.00003,0.00004,0.00005,0.00006,0.00007,0.00008,0.00009,0.0001,0.0002,0.0003,0.0004,0.0005,0.0006,0.0007,0.0008,0.0009,0.001,0.002,0.003,0.004,0.005,0.006,0.007,0.008,0.009,0.01,0.02,0.03,0.04,0.05,0.06,0.07,0.08,0.09,0.1,0.2,0.3,0.4,0.5,0.6,0.7,0.8,0.9,1],
                "labelExpr": "datum.value==1?'10⁰':datum.value==0.1?'10⁻¹':datum.value==0.01?'10⁻²':datum.value==0.001?'10⁻³':datum.value==0.0001?'10⁻⁴':datum.value==0.00001?'10⁻⁵':''",
                "labelFont": "Liberation Serif", "labelFontWeight": "bold", "labelFontSize": 36, "labelColor": "black",
                "labelPadding": 46, "labelOverlap": false, "labelBound": false, "labelFlush": false,
                "minExtent": 91, "maxExtent": 91,
                "domain": false, "tickColor": "black", "tickWidth": 3,
                "tickSize": {"condition": {"test": "abs(log(datum.value)/LN10-round(log(datum.value)/LN10))<0.000001", "value": -22}, "value": -11},
                "grid": false,
                "title": "dσ/dt\u00a0\u00a0\u00a0\u00a0\u00a0\u00a0[mb/GeV²]", "titleFont": "Liberation Serif", "titleFontWeight": "bold", "titleFontSize": 38,
                "titleColor": "black", "titleAnchor": "end", "titlePadding": 19
              }
            },
            "color": {
              "field": "model", "type": "nominal",
              "scale": {
                "domain": ["Block et al.", "Bourrely et al.", "Islam et al.\u00a0\u00a0(CGC)", "Jenkovszky et al.", "Petrov et al.\u00a0\u00a0(3P)", "TOTEM"],
                "range": ["#ED1C24", "#3A54A4", "#2DB04B", "#F7841E", "#B64FA0", "#231F20"]
              },
              "legend": {
                "orient": "top-right", "offset": 0, "title": null,
                "symbolType": "M-2.65,0H2.65", "symbolSize": 1600, "symbolOffset": 33,
                "symbolStrokeWidth": 3.5,
                "labelOffset": 77, "labelFont": "Liberation Serif", "labelFontSize": 33, "labelColor": "black", "labelLimit": 500,
                "padding": 15, "rowPadding": 15.8,
                "strokeColor": "black", "fillColor": "white",
                "encode": {"symbols": {"update": {"strokeWidth": {"signal": "datum.value === 'TOTEM' ? 5.5 : 3.5"}}}}
              }
            }
          }
        },
        {
          "data": {"name": "hist"},
          "mark": {"type": "line", "strokeWidth": 5.5, "interpolate": "step-after", "clip": true},
          "encoding": {
            "x": {
              "field": "t", "type": "quantitative",
              "axis": {
                "orient": "top", "title": null, "labels": false, "grid": false, "domain": false,
                "values": [0,0.1,0.2,0.3,0.4,0.5,0.6,0.7,0.8,0.9,1,1.1,1.2,1.3,1.4,1.5,1.6,1.7,1.8,1.9,2,2.1,2.2,2.3,2.4,2.5],
                "tickColor": "black", "tickWidth": 3,
                "tickSize": {"condition": {"test": "abs(datum.value*2-round(datum.value*2))<0.000001", "value": -22}, "value": -11}
              }
            },
            "y": {
              "field": "v", "type": "quantitative",
              "axis": {
                "orient": "right", "title": null, "labels": false, "grid": false, "domain": false,
                "values": [0.00001,0.00002,0.00003,0.00004,0.00005,0.00006,0.00007,0.00008,0.00009,0.0001,0.0002,0.0003,0.0004,0.0005,0.0006,0.0007,0.0008,0.0009,0.001,0.002,0.003,0.004,0.005,0.006,0.007,0.008,0.009,0.01,0.02,0.03,0.04,0.05,0.06,0.07,0.08,0.09,0.1,0.2,0.3,0.4,0.5,0.6,0.7,0.8,0.9,1],
                "tickColor": "black", "tickWidth": 3,
                "tickSize": {"condition": {"test": "abs(log(datum.value)/LN10-round(log(datum.value)/LN10))<0.000001", "value": -22}, "value": -11}
              }
            },
            "color": {"field": "model", "type": "nominal"},
            "order": {"field": "i"}
          }
        }
      ]
    }
  ],
  "spacing": 93
}
